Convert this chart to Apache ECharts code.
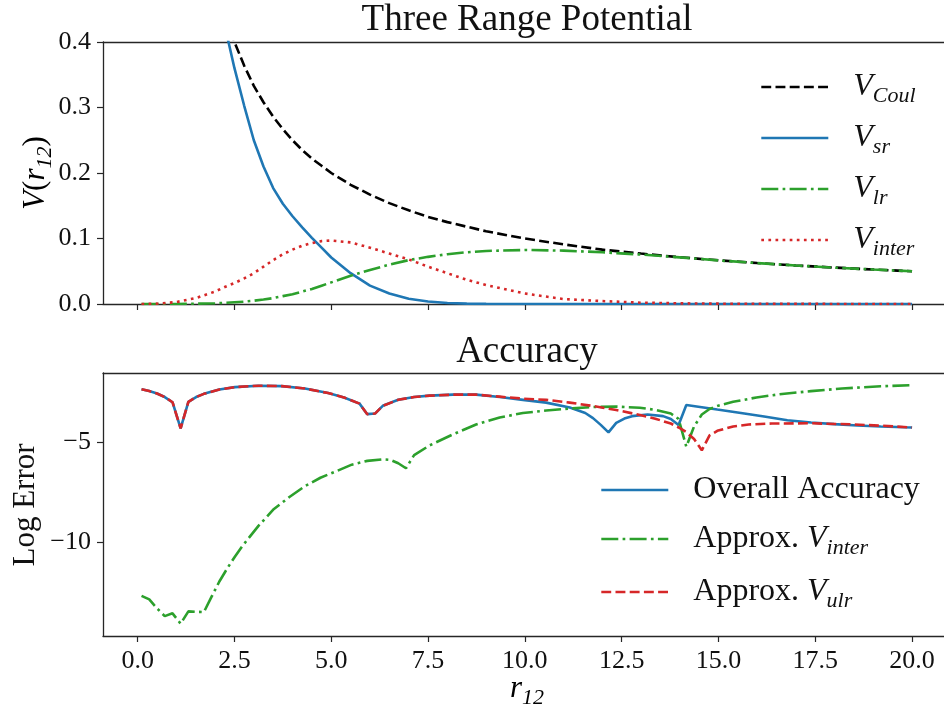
<!DOCTYPE html>
<html>
<head>
<meta charset="utf-8">
<script src="https://cdn.jsdelivr.net/npm/echarts@6/dist/echarts.min.js"></script>
<style>
  html, body { margin: 0; padding: 0; background: #fff; }
  #chart { width: 944px; height: 704px; }
</style>
</head>
<body>
<div id="chart"></div>
<script>
// ---- Potential panel: sample radii and the four potential curves ----
const rTop = [0.1, 0.5, 1.0, 1.5, 2.0, 2.25, 2.5, 2.75, 3.0, 3.25, 3.5, 3.75, 4.0, 4.25, 4.5, 4.75, 5.0,
              5.5, 6.0, 6.5, 7.0, 7.5, 8.0, 8.5, 9.0, 10, 11, 12, 13, 14, 15, 16, 17, 18, 19, 20];
const vCoul = [null, null, null, null, 0.5, 0.444, 0.4, 0.364, 0.333, 0.308, 0.286, 0.267, 0.25, 0.235, 0.222, 0.211, 0.2,
               0.182, 0.167, 0.154, 0.143, 0.133, 0.125, 0.118, 0.111, 0.1, 0.091, 0.083, 0.077, 0.0714, 0.0667, 0.0625, 0.0588, 0.0556, 0.0526, 0.05];
const vSr = [null, null, null, null, 0.50, 0.425, 0.36, 0.303, 0.25, 0.21, 0.177, 0.153, 0.134, 0.117, 0.101, 0.086, 0.071,
             0.047, 0.028, 0.016, 0.008, 0.0038, 0.0015, 0.0006, 0.0002, 0, 0, 0, 0, 0, 0, 0, 0, 0, 0, 0];
const vLr = [0, 0, 0.0001, 0.0004, 0.0012, 0.0018, 0.0027, 0.0036, 0.005, 0.0068, 0.009, 0.012, 0.015, 0.019, 0.023, 0.028, 0.033,
             0.043, 0.052, 0.060, 0.067, 0.072, 0.076, 0.079, 0.081, 0.0825, 0.0815, 0.079, 0.0755, 0.0712, 0.0665, 0.0625, 0.0588, 0.0555, 0.0526, 0.050];
const vInter = [0, 0.0005, 0.003, 0.009, 0.019, 0.026, 0.032, 0.039, 0.047, 0.057, 0.067, 0.076, 0.083, 0.089, 0.093, 0.096, 0.097,
                0.094, 0.086, 0.077, 0.068, 0.057, 0.047, 0.037, 0.029, 0.016, 0.0075, 0.0045, 0.002, 0.001, 0.0005, 0.0003, 0.0002, 0.0001, 0.0001, 0.0001];

// ---- Accuracy panel: log10 error of each approximation ----
const rOverall = [0.10, 0.30, 0.50, 0.70, 0.90, 1.11, 1.31, 1.51, 1.71, 2.11, 2.51, 3.12, 3.72, 4.32, 4.92, 5.33,
                  5.73, 5.93, 6.13, 6.33, 6.73, 7.14, 7.54, 8.14, 8.74, 9.35, 9.95, 10.55, 11.16, 11.56, 11.76,
                  11.96, 12.16, 12.36, 12.57, 12.77, 13.17, 13.57, 13.77, 13.97, 14.17, 14.57, 14.97, 15.58, 16.18,
                  16.78, 17.39, 17.99, 18.59, 19.19, 19.80, 20.00];
const errOverall = [-2.33, -2.42, -2.54, -2.72, -2.98, -4.30, -2.96, -2.72, -2.56, -2.34, -2.22, -2.15, -2.17, -2.29, -2.52, -2.74,
                    -3.05, -3.58, -3.55, -3.16, -2.86, -2.72, -2.65, -2.60, -2.60, -2.72, -2.86, -3.00, -3.25, -3.52, -3.78,
                    -4.12, -4.50, -4.02, -3.80, -3.68, -3.60, -3.68, -3.82, -4.13, -3.12, -3.23, -3.35, -3.52, -3.70,
                    -3.89, -4.00, -4.08, -4.15, -4.20, -4.24, -4.25];

const rInter = [0.10, 0.30, 0.50, 0.70, 0.90, 1.11, 1.31, 1.51, 1.71, 1.91, 2.11, 2.31, 2.51, 2.71, 3.12, 3.52, 3.92,
                4.32, 4.72, 5.13, 5.53, 5.93, 6.33, 6.53, 6.73, 6.93, 7.14, 7.54, 8.14, 8.74, 9.35, 9.95, 10.55,
                11.16, 11.76, 12.36, 12.97, 13.37, 13.77, 13.97, 14.17, 14.37, 14.57, 14.77, 14.97, 15.38, 15.98,
                16.58, 17.39, 18.19, 19.19, 20.00];
const errInter = [-12.72, -12.90, -13.35, -13.74, -13.60, -14.12, -13.50, -13.52, -13.54, -12.76, -12.00, -11.35, -10.75, -10.20, -9.20, -8.35, -7.75,
                  -7.20, -6.78, -6.45, -6.12, -5.93, -5.85, -5.88, -6.05, -6.30, -5.64, -5.15, -4.60, -4.10, -3.75, -3.52, -3.40,
                  -3.30, -3.22, -3.20, -3.26, -3.36, -3.55, -3.82, -5.22, -4.20, -3.60, -3.32, -3.17, -2.96, -2.74,
                  -2.58, -2.42, -2.29, -2.18, -2.12];

const rUlr = [0.10, 0.30, 0.50, 0.70, 0.90, 1.11, 1.31, 1.51, 1.71, 2.11, 2.51, 3.12, 3.72, 4.32, 4.92, 5.33,
              5.73, 5.93, 6.13, 6.33, 6.73, 7.14, 7.54, 8.14, 8.74, 9.35, 9.95, 10.55, 11.16, 11.76, 12.36,
              12.97, 13.37, 13.77, 13.97, 14.17, 14.37, 14.57, 14.77, 14.97, 15.38, 15.78, 16.38, 17.39, 18.39,
              19.19, 20.00];
const errUlr = [-2.33, -2.42, -2.54, -2.72, -2.98, -4.30, -2.96, -2.72, -2.56, -2.34, -2.22, -2.15, -2.17, -2.29, -2.52, -2.74,
                -3.05, -3.58, -3.55, -3.16, -2.86, -2.72, -2.65, -2.60, -2.60, -2.70, -2.80, -2.86, -3.00, -3.17, -3.37,
                -3.62, -3.81, -4.05, -4.25, -4.48, -4.83, -5.40, -4.65, -4.42, -4.20, -4.10, -4.05, -4.04, -4.09,
                -4.16, -4.25];

// ---- Axis ticks ----
const xTicks = [0, 2.5, 5, 7.5, 10, 12.5, 15, 17.5, 20];
const yTicksPot = [0, 0.1, 0.2, 0.3, 0.4];
const yTicksAcc = [-10, -5];

const FONT = '"Liberation Serif", "DejaVu Serif", serif';
const AXIS_COLOR = '#262626';
const TEXT_COLOR = '#111';
const BLUE = '#1f77b4', GREEN = '#2ca02c', RED = '#d62728', BLACK = '#000000';
const LW = 2.6;
const DASHED = [9.9, 4.3];
const DASHDOT = [17, 4.3, 2.7, 4.3];
const DOTTED = [2.7, 4.4];

const X_MIN = -0.895, X_MAX = 20.825;

const pairs = (xs, ys) => xs.map((x, i) => [x, ys[i]]);
const minus = v => (v < 0 ? '\u2212' + Math.abs(v) : String(v));

// rich styles for italic symbols with subscripts
const rich = {
  v: { fontFamily: FONT, fontStyle: 'italic', fontSize: 32, color: TEXT_COLOR, lineHeight: 40, verticalAlign: 'middle' },
  s: { fontFamily: FONT, fontStyle: 'italic', fontSize: 22, color: TEXT_COLOR, lineHeight: 22, verticalAlign: 'bottom' },
  n: { fontFamily: FONT, fontSize: 32, color: TEXT_COLOR, lineHeight: 40, verticalAlign: 'middle' },
  p: { fontFamily: FONT, fontSize: 31, color: TEXT_COLOR, lineHeight: 40, verticalAlign: 'middle' },
  r: { fontFamily: FONT, fontStyle: 'italic', fontSize: 31, color: TEXT_COLOR, lineHeight: 40, verticalAlign: 'middle' }
};

const legendText = {
  'V_Coul': '{v|V}{s|Coul}',
  'V_sr': '{v|V}{s|sr}',
  'V_lr': '{v|V}{s|lr}',
  'V_inter': '{v|V}{s|inter}',
  'Overall Accuracy': '{n|Overall Accuracy}',
  'Approx. V_inter': '{n|Approx. }{v|V}{s|inter}',
  'Approx. V_ulr': '{n|Approx. }{v|V}{s|ulr}'
};

function xAxes(gridIndex, showLabels) {
  return [{
    type: 'value', gridIndex, min: X_MIN, max: X_MAX,
    axisLine: { show: true, onZero: false, lineStyle: { color: AXIS_COLOR, width: 1.3 } },
    axisTick: { show: true, length: 6, customValues: xTicks, lineStyle: { color: AXIS_COLOR, width: 1.2 } },
    axisLabel: {
      show: showLabels, customValues: xTicks, margin: 12,
      formatter: v => v.toFixed(1), fontFamily: FONT, fontSize: 26, color: TEXT_COLOR
    },
    splitLine: { show: false }
  }, {
    type: 'value', gridIndex, position: 'top', min: X_MIN, max: X_MAX,
    axisLine: { show: true, onZero: false, lineStyle: { color: AXIS_COLOR, width: 1.3 } },
    axisTick: { show: false }, axisLabel: { show: false }, splitLine: { show: false }
  }];
}

function yAxis(gridIndex, min, max, ticks, fmt) {
  return {
    type: 'value', gridIndex, min, max,
    axisLine: { show: true, onZero: false, lineStyle: { color: AXIS_COLOR, width: 1.3 } },
    axisTick: { show: true, length: 6, customValues: ticks, lineStyle: { color: AXIS_COLOR, width: 1.2 } },
    axisLabel: { customValues: ticks, margin: 12, formatter: fmt, fontFamily: FONT, fontSize: 26, color: TEXT_COLOR },
    splitLine: { show: false }
  };
}

function line(name, xIdx, yIdx, data, color, type) {
  return {
    name, type: 'line', xAxisIndex: xIdx, yAxisIndex: yIdx, data,
    symbol: 'none', smooth: false,
    clip: true, animation: false,
    lineStyle: { color, width: LW, type, cap: 'butt' },
    itemStyle: { color }
  };
}

// legend keys show only the line sample (the marker is hidden)
const legendBase = {
  orient: 'vertical', itemWidth: 67, itemHeight: 20,
  itemStyle: { opacity: 0 },
  lineStyle: { width: LW },
  formatter: n => legendText[n]
};

const chart = echarts.init(document.getElementById('chart'), null, { renderer: 'canvas' });

chart.setOption({
  backgroundColor: '#ffffff',
  animation: false,
  grid: [
    { left: 103, right: 0, top: 42, height: 262 },
    { left: 103, right: 0, top: 373, height: 263 }
  ],
  xAxis: [...xAxes(0, false), ...xAxes(1, true)],
  yAxis: [
    yAxis(0, 0, 0.4, yTicksPot, v => v.toFixed(1)),
    yAxis(1, -14.74, -1.51, yTicksAcc, minus)
  ],
  legend: [Object.assign({}, legendBase, {
    left: 755, top: 66, itemGap: 15,
    data: ['V_Coul', 'V_sr', 'V_lr', 'V_inter'],
    textStyle: { rich, padding: [0, 0, 0, 20] }
  }), Object.assign({}, legendBase, {
    left: 595, top: 469, itemGap: 17,
    data: ['Overall Accuracy', 'Approx. V_inter', 'Approx. V_ulr'],
    textStyle: { rich, padding: [0, 0, 0, 20] }
  })],
  graphic: [
    { type: 'text', x: 527, y: 20, style: { text: 'Three Range Potential', font: '37px ' + FONT, fill: TEXT_COLOR, align: 'center', verticalAlign: 'middle' } },
    { type: 'text', x: 527, y: 352, style: { text: 'Accuracy', font: '37px ' + FONT, fill: TEXT_COLOR, align: 'center', verticalAlign: 'middle' } },
    { type: 'text', x: 36, y: 173, rotation: Math.PI / 2,
      style: { text: '{r|V}{p|(}{r|r}{s|12}{p|)}', rich, align: 'center', verticalAlign: 'middle' } },
    { type: 'text', x: 26, y: 505, rotation: Math.PI / 2,
      style: { text: 'Log Error', font: '31px ' + FONT, fill: TEXT_COLOR, align: 'center', verticalAlign: 'middle' } },
    { type: 'text', x: 527, y: 689,
      style: { text: '{r|r}{s|12}', rich, align: 'center', verticalAlign: 'middle' } }
  ],
  series: [
    line('V_Coul', 0, 0, pairs(rTop, vCoul), BLACK, DASHED),
    line('V_sr', 0, 0, pairs(rTop, vSr), BLUE, 'solid'),
    line('V_lr', 0, 0, pairs(rTop, vLr), GREEN, DASHDOT),
    line('V_inter', 0, 0, pairs(rTop, vInter), RED, DOTTED),
    line('Overall Accuracy', 2, 1, pairs(rOverall, errOverall), BLUE, 'solid'),
    line('Approx. V_inter', 2, 1, pairs(rInter, errInter), GREEN, DASHDOT),
    line('Approx. V_ulr', 2, 1, pairs(rUlr, errUlr), RED, DASHED)
  ]
});
</script>
</body>
</html>
